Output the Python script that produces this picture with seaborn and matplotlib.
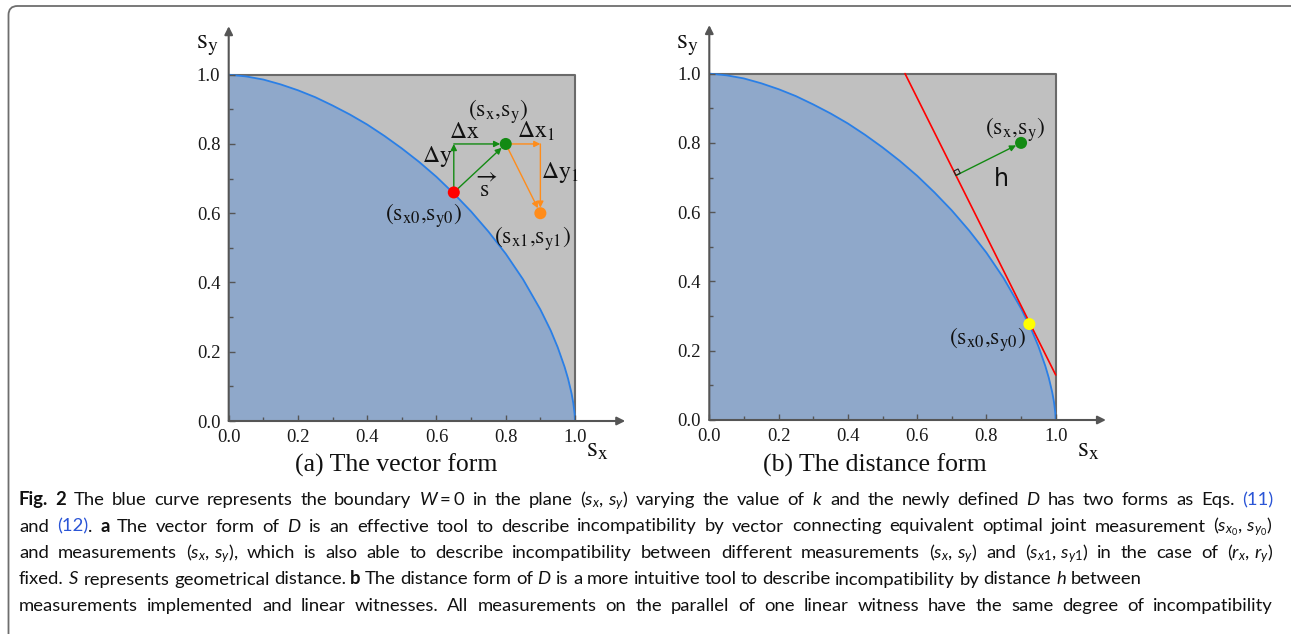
import numpy as np
import matplotlib
matplotlib.use("Agg")
import matplotlib.pyplot as plt
import seaborn as sns
from matplotlib.patches import FancyBboxPatch, Polygon
from matplotlib.transforms import IdentityTransform

# -------------------------
# Data
# -------------------------
# boundary W = 0 in the (s_x, s_y) plane
curve_sx = [0.0, 0.05, 0.1, 0.15, 0.2, 0.25, 0.3, 0.35, 0.4, 0.45, 0.5, 0.55, 0.6,
            0.65, 0.7, 0.75, 0.8, 0.85, 0.9, 0.93, 0.95, 0.97, 0.98, 0.99, 0.995, 0.999, 1.0]
curve_sy = [1.0, 0.995, 0.986, 0.972, 0.955, 0.935, 0.911, 0.885, 0.856, 0.823, 0.787, 0.748, 0.705,
            0.657, 0.605, 0.547, 0.483, 0.409, 0.322, 0.261, 0.213, 0.156, 0.122, 0.080, 0.052, 0.020, 0.0]

# panel (a): optimal joint measurement, measurement, second measurement
a_opt = (0.65, 0.66)
a_meas = (0.8, 0.8)
a_meas1 = (0.9, 0.6)

# panel (b): linear witness tangent to the boundary
b_opt = (0.924, 0.277)
b_meas = (0.9, 0.8)
witness_sx = [0.565, 1.0]
witness_sy = [1.0, 0.13]

major_ticks = [0.0, 0.2, 0.4, 0.6, 0.8, 1.0]
minor_ticks = [0.1, 0.3, 0.5, 0.7, 0.9]
tick_labels = ["0.0", "0.2", "0.4", "0.6", "0.8", "1.0"]

# -------------------------
# Style
# -------------------------
W, H = 1291, 634
sns.set_style("white")
plt.rcParams["font.family"] = ["Liberation Serif", "DejaVu Serif"]
plt.rcParams["mathtext.fontset"] = "custom"
plt.rcParams["mathtext.rm"] = "Lato"
plt.rcParams["mathtext.it"] = "Lato:italic"
plt.rcParams["mathtext.bf"] = "Lato:bold"

GRAY = "#c0c0c0"
BLUE_FILL = "#8fa8ca"
CURVE = "#2a7fe6"
BOX_EDGE = "#6a6a6a"
AXIS = "#555555"
GREEN = "#138a13"
ORANGE = "#ff8c1a"
INK = "#111111"
LIM = 1.16

fig = plt.figure(figsize=(W / 100, H / 100), dpi=100)


def fx(px):
    return px / W


def fy(py):
    return 1 - py / H


def arrow(ax, start, end, color, shrink=0):
    ax.annotate("", xy=end, xytext=start,
                arrowprops=dict(arrowstyle="-|>", color=color, lw=1.0, mutation_scale=9,
                                shrinkA=0, shrinkB=shrink), zorder=4)


def label(ax, x, y, s, size=17, ha="center"):
    ax.text(x, y, s, fontsize=size, ha=ha, va="baseline", math_fontfamily="stix",
            color=INK, zorder=6)


def panel(left_px, axis_y_px, scale):
    ax = fig.add_axes([fx(left_px), fy(axis_y_px), LIM * scale / W, LIM * scale / H])
    ax.set_xlim(0, LIM)
    ax.set_ylim(0, LIM)
    ax.fill_between([0, 1], [1, 1], color=GRAY, lw=0, zorder=0)
    ax.fill_between(curve_sx, curve_sy, color=BLUE_FILL, lw=0, zorder=1)
    ax.plot([0, 1, 1], [1, 1, 0], color=BOX_EDGE, lw=1.5, zorder=1.2)
    sns.lineplot(x=curve_sx, y=curve_sy, color=CURVE, linewidth=1.3, sort=False,
                 estimator=None, ax=ax, zorder=2)
    for sp in ax.spines.values():
        sp.set_visible(False)
    ax.set_axisbelow(False)
    for end in [(1.145, 0), (0, 1.14)]:
        ax.annotate("", xy=end, xytext=(0, 0),
                    arrowprops=dict(arrowstyle="-|>", color=AXIS, lw=1.5, mutation_scale=12,
                                    shrinkA=0, shrinkB=0), zorder=3)
    ax.set_xticks(major_ticks)
    ax.set_xticklabels(tick_labels)
    ax.set_yticks(major_ticks)
    ax.set_yticklabels(tick_labels)
    ax.set_xticks(minor_ticks, minor=True)
    ax.set_yticks(minor_ticks, minor=True)
    ax.tick_params(which="both", direction="in", color=AXIS, width=1.0, labelsize=13.5,
                   labelcolor="#1a1a1a", bottom=True, left=True)
    ax.tick_params(which="major", length=4, pad=6)
    ax.tick_params(which="minor", length=3)
    ax.set_xlabel("")
    ax.set_ylabel("")
    return ax


# -------------------------
# (a) The vector form
# -------------------------
ax_a = panel(228.7, 421, 346.3)
arrow(ax_a, a_opt, (a_opt[0], a_meas[1]), GREEN)
arrow(ax_a, (a_opt[0], a_meas[1]), a_meas, GREEN, shrink=4)
arrow(ax_a, a_opt, a_meas, GREEN, shrink=4)
arrow(ax_a, a_meas, (a_meas1[0], a_meas[1]), ORANGE)
arrow(ax_a, (a_meas1[0], a_meas[1]), a_meas1, ORANGE, shrink=4)
arrow(ax_a, a_meas, a_meas1, ORANGE, shrink=4)
sns.scatterplot(x=[a_opt[0]], y=[a_opt[1]], color="#ff0000", s=75, edgecolor="none", ax=ax_a, zorder=5)
sns.scatterplot(x=[a_meas[0]], y=[a_meas[1]], color=GREEN, s=75, edgecolor="none", ax=ax_a, zorder=5)
sns.scatterplot(x=[a_meas1[0]], y=[a_meas1[1]], color=ORANGE, s=75, edgecolor="none", ax=ax_a, zorder=5)

label(ax_a, 0.777, 0.879, r"$(\mathrm{s_x}{,}\mathrm{s_y})$")
label(ax_a, 0.679, 0.818, r"$\Delta\mathrm{x}$")
label(ax_a, 0.601, 0.748, r"$\Delta\mathrm{y}$")
label(ax_a, 0.832, 0.818, r"$\Delta\mathrm{x}_1$", ha="left")
label(ax_a, 0.902, 0.702, r"$\Delta\mathrm{y}_1$", ha="left")
label(ax_a, 0.745, 0.648, r"$\overrightarrow{\mathrm{s}}$")
label(ax_a, 0.563, 0.578, r"$(\mathrm{s_{x0}}{,}\mathrm{s_{y0}})$")
label(ax_a, 0.878, 0.513, r"$(\mathrm{s_{x1}}{,}\mathrm{s_{y1}})$")

# -------------------------
# (b) The distance form
# -------------------------
ax_b = panel(709.3, 420, 346.4)
sns.lineplot(x=witness_sx, y=witness_sy, color="#ff0000", linewidth=1.2, sort=False,
             estimator=None, ax=ax_b, zorder=3)

# foot of the perpendicular from the measurement onto the witness line
p0 = np.array([witness_sx[0], witness_sy[0]])
d = np.array([witness_sx[1], witness_sy[1]]) - p0
d = d / np.linalg.norm(d)
m = np.array(b_meas)
foot = p0 + np.dot(m - p0, d) * d
arrow(ax_b, tuple(foot), b_meas, GREEN, shrink=4)
u = (m - foot) / np.linalg.norm(m - foot)
v = -d
k = 0.014
ax_b.add_patch(Polygon([foot, foot + k * u, foot + k * u + k * v, foot + k * v],
                       closed=True, fill=False, edgecolor="#222222", lw=0.8, zorder=4))
sns.scatterplot(x=[b_meas[0]], y=[b_meas[1]], color=GREEN, s=75, edgecolor="none", ax=ax_b, zorder=5)
sns.scatterplot(x=[b_opt[0]], y=[b_opt[1]], color="#ffff00", s=75, edgecolor="none", ax=ax_b, zorder=5)

label(ax_b, 0.883, 0.825, r"$(\mathrm{s_x}{,}\mathrm{s_y})$")
ax_b.text(0.842, 0.675, "h", fontsize=17, ha="center", va="baseline",
          family=["DejaVu Sans"], color=INK, zorder=6)
label(ax_b, 0.802, 0.218, r"$(\mathrm{s_{x0}}{,}\mathrm{s_{y0}})$")

# axis names and panel titles
for x_px in [196, 676]:
    fig.text(fx(x_px), fy(48), r"$\mathrm{s_y}$", fontsize=20, ha="left", va="baseline",
             math_fontfamily="stix", color=INK)
for x_px in [586, 1077]:
    fig.text(fx(x_px), fy(456), r"$\mathrm{s_x}$", fontsize=20, ha="left", va="baseline",
             math_fontfamily="stix", color=INK)
fig.text(fx(396), fy(472), "(a) The vector form", fontsize=18.5, ha="center", va="baseline",
         color=INK)
fig.text(fx(875), fy(472), "(b) The distance form", fontsize=18.5, ha="center", va="baseline",
         color=INK)

# -------------------------
# Caption
# -------------------------
NORMAL = {}
BOLD = {"fontweight": "bold"}
LINK = {"color": "#2b55d6"}
cap_lines = [
    [("Fig. 2", BOLD),
     (" The blue curve represents the boundary $W=0$ in the plane $(s_x,\\,s_y)$ varying the value "
      "of $k$ and the newly defined $D$ has two forms as Eqs. ", NORMAL),
     ("(11)", LINK)],
    [("and ", NORMAL), ("(12)", LINK), (". ", NORMAL), ("a", BOLD),
     (" The vector form of $D$ is an effective tool to describe incompatibility by vector connecting "
      "equivalent optimal joint measurement $(s_{x_0},\\,s_{y_0})$", NORMAL)],
    [("and measurements $(s_x,\\,s_y)$, which is also able to describe incompatibility between different "
      "measurements $(s_x,\\,s_y)$ and $(s_{x1},\\,s_{y1})$ in the case of $(r_x,\\,r_y)$", NORMAL)],
    [("fixed. $S$ represents geometrical distance. ", NORMAL), ("b", BOLD),
     (" The distance form of $D$ is a more intuitive tool to describe incompatibility by distance $h$ "
      "between", NORMAL)],
    [("measurements implemented and linear witnesses. All measurements on the parallel of one linear "
      "witness have the same degree of incompatibility", NORMAL)],
]
cap_baselines = [505, 531.5, 558, 584.5, 611]
cap_justify = [True, True, True, False, True]
cap_left, cap_right = 19, 1273
cap_size = 13.3

renderer = fig.canvas.get_renderer()


def caption_line(y_px, segs, justify):
    toks = []
    space = False
    for txt, style in segs:
        for i, word in enumerate(txt.split(" ")):
            if i > 0:
                space = True
            if word:
                toks.append((word, style, space and len(toks) > 0))
                space = False
    arts, widths = [], []
    for word, style, _ in toks:
        t = fig.text(0, fy(y_px), word, fontsize=cap_size, family=["Lato", "DejaVu Sans"],
                     math_fontfamily="custom", va="baseline", ha="left",
                     color=style.get("color", "#111111"),
                     fontweight=style.get("fontweight", "normal"))
        widths.append(t.get_window_extent(renderer).width)
        arts.append(t)
    n_gaps = sum(1 for tk in toks if tk[2])
    gap = cap_size * 1.389 * 0.24
    if justify and n_gaps:
        gap = (cap_right - cap_left - sum(widths)) / n_gaps
    x = cap_left
    for t, w, tk in zip(arts, widths, toks):
        if tk[2]:
            x += gap
        t.set_x(fx(x))
        x += w


for yb, segs, just in zip(cap_baselines, cap_lines, cap_justify):
    caption_line(yb, segs, just)

# rounded frame (only top and left edges fall inside the image)
fig.patches.append(FancyBboxPatch((8.5, -30), 1320, 634 - 6 + 30, boxstyle="round,pad=0,rounding_size=9",
                                  transform=IdentityTransform(), fill=False,
                                  edgecolor="#6e6e6e", lw=1.3, figure=fig))

fig.savefig("out.png", dpi=100)
